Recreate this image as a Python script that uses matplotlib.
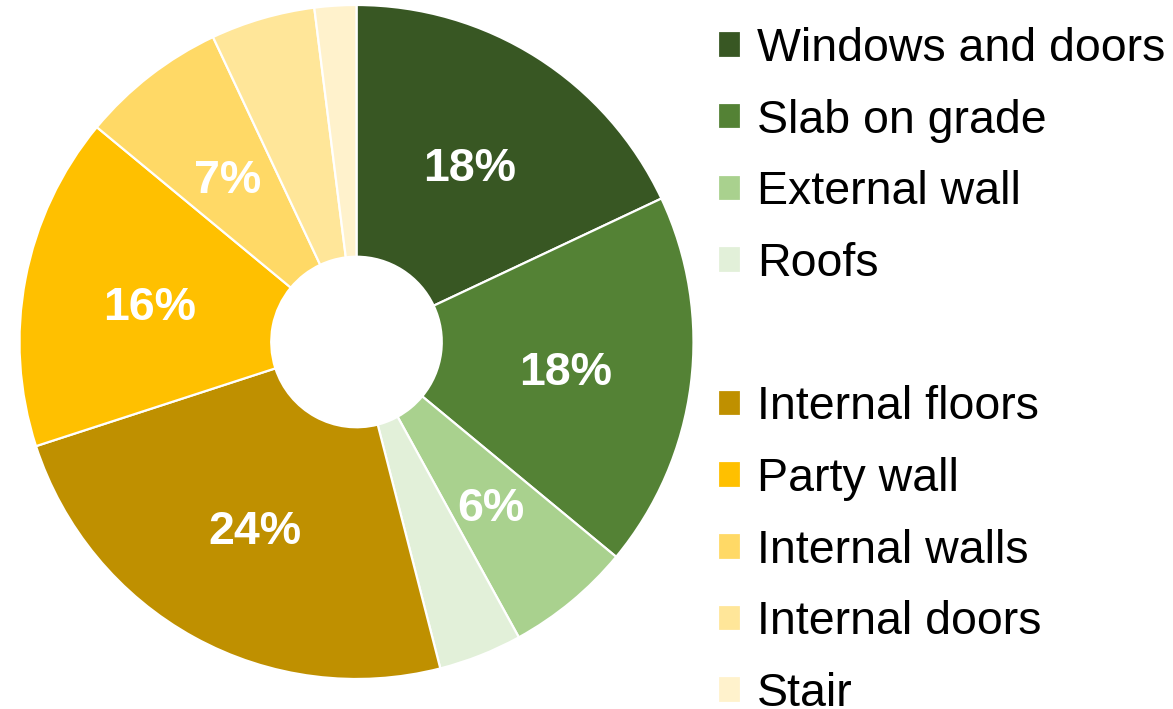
import matplotlib
matplotlib.use("Agg")
import matplotlib.pyplot as plt
from matplotlib.patches import Patch

plt.rcParams['font.family'] = ['Liberation Sans', 'DejaVu Sans']

# Share of embodied carbon by building element (%), clockwise from 12 o'clock
categories = ["Windows and doors", "Slab on grade", "External wall", "Roofs",
              "Internal floors", "Party wall", "Internal walls", "Internal doors", "Stair"]
shares = [18, 18, 6, 4, 24, 16, 7, 5, 2]
colors = ["#385723", "#548235", "#A9D18E", "#E2F0D9",
          "#BF9000", "#FFC000", "#FFD966", "#FFE699", "#FFF2CC"]

W, H, DPI = 1173, 709, 100
fig = plt.figure(figsize=(W / DPI, H / DPI), dpi=DPI)

# Donut centred at (356, 342) px with outer radius 337 px
cx, cy, r = 356.5, 342, 337
ax = fig.add_axes([(cx - r) / W, (H - cy - r) / H, 2 * r / W, 2 * r / H])

wedges, _, autotexts = ax.pie(
    shares, colors=colors, startangle=90, counterclock=False, radius=1,
    autopct=lambda p: f"{p:.0f}%" if p >= 6 else "",
    pctdistance=0.625,
    wedgeprops=dict(width=0.747, edgecolor="white", linewidth=1.6),
    textprops=dict(color="white", fontsize=33.5, fontweight="bold"),
)
for t in autotexts:
    t.set_verticalalignment("center_baseline")
ax.set_xlim(-1, 1)
ax.set_ylim(-1, 1)
ax.set_aspect("equal")
ax.axis("off")

# Legend in two groups: envelope elements, then internal elements
spacer = Patch(facecolor="none", edgecolor="none", label=" ")
handles = wedges[:4] + [spacer] + wedges[4:]
labels = categories[:4] + [" "] + categories[4:]
fig.legend(handles, labels, loc="upper left",
           bbox_to_anchor=(718 / W, 1 - 27 / H),
           frameon=False, fontsize=33.5, borderpad=0, borderaxespad=0,
           handlelength=0.5, handleheight=0.5, handletextpad=0.34,
           labelspacing=0.595)

fig.savefig("out.png", dpi=DPI)
